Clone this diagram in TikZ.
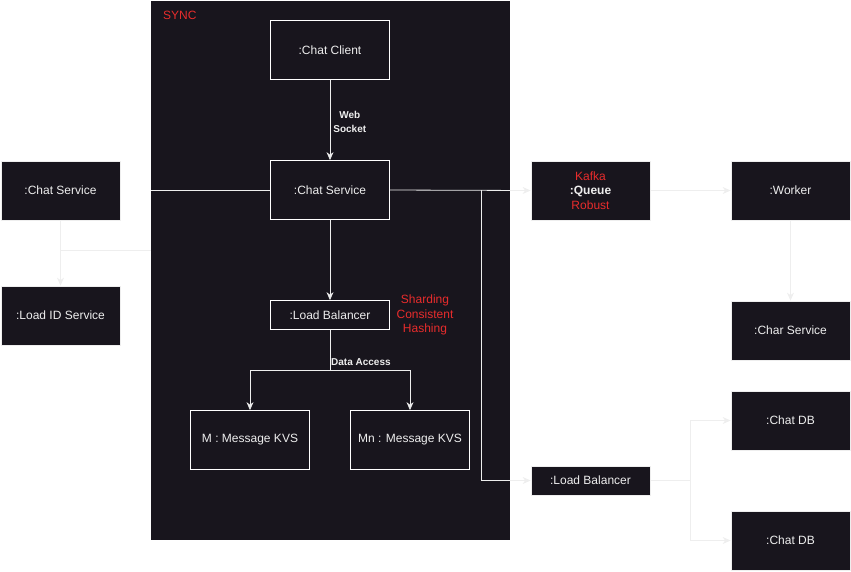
\documentclass[tikz,border=0pt]{standalone}
\usepackage{fontspec}
\setmainfont{Liberation Sans}
\usetikzlibrary{arrows.meta,positioning}

\definecolor{panel}{RGB}{24,21,29}
\definecolor{wire}{RGB}{238,238,238}
\definecolor{note}{RGB}{232,44,44}

\begin{document}
\begin{tikzpicture}[x=1pt, y=-1pt,
    box/.style={draw=wire, fill=panel, text=wire, line width=0.8pt,
                minimum width=119pt, minimum height=59pt, inner sep=0pt,
                font=\fontsize{12}{14}\selectfont},
    innerbox/.style={box, draw=white},
    flatbox/.style={box, minimum height=29pt},
    link/.style={draw=wire, line width=0.8pt, -{Stealth[length=8pt,width=7pt]}},
    plain/.style={draw=wire, line width=0.8pt},
    lbl/.style={text=wire, font=\bfseries\fontsize{10}{14}\selectfont,
                align=center, inner sep=1pt},
    redtext/.style={text=note, font=\fontsize{12}{14}\selectfont, align=center}]

  % Fix the page to the reference size
  \useasboundingbox (0,0) rectangle (851,571);

  % The SYNC region
  \node[fill=panel, minimum width=359pt, minimum height=539pt, inner sep=0pt]
    (sync) at (330.5,270.5) {};
  \node[redtext, anchor=west, inner sep=0pt] (synclbl) at (163,15) {SYNC};

  % Boxes inside SYNC
  \node[innerbox] (client) at (330,50) {:Chat Client};
  \node[innerbox] (chatin) at (330,190) {:Chat Service};
  \node[flatbox, draw=white] (lbin) at (330,315) {:Load Balancer};
  \node[innerbox] (kvsm) at (250,440) {M : Message KVS};
  \node[innerbox] (kvsn) at (410,440) {Mn : Message KVS};
  \node[redtext, inner sep=0pt] (shard) at (425,315)
    {Sharding\\[0.5pt]Consistent\\[0.5pt]Hashing};

  % Boxes on the left
  \node[box] (chatout) at (60.5,190.5) {:Chat Service};
  \node[box] (ldid) at (60.5,315.5) {:Load ID Service};

  % Boxes on the right
  \node[box, align=center] (queue) at (590.5,190.5)
    {{\color{note}Kafka}\\[0.5pt]\textbf{:Queue}\\[0.5pt]{\color{note}Robust}};
  \node[box] (worker) at (790.5,190.5) {:Worker};
  \node[box] (charsvc) at (790.5,330.5) {:Char Service};
  \node[flatbox] (lbout) at (590.5,480.5) {:Load Balancer};
  \node[box] (db1) at (790.5,420.5) {:Chat DB};
  \node[box] (db2) at (790.5,540.5) {:Chat DB};

  % Connectors inside SYNC
  \draw[link] (client) -- node[lbl, right=2pt, yshift=-1.5pt] {Web\\Socket} (chatin);
  \draw[link] (chatin) -- (lbin);
  \draw[plain] (lbin.south) -- ++(0,40) coordinate (split);
  \node[lbl, anchor=south west, yshift=3pt] (access) at (split) {Data Access};
  \draw[link] (split) -| (kvsm.north);
  \draw[link] (split) -| (kvsn.north);

  % Connectors from the chat service
  \draw[plain] (sync.west |- chatin) -- (chatin.west);
  \draw[link] (chatin.east) -- (queue.west);
  \coordinate (tap) at (481,190);
  \draw[link] (tap) |- (lbout.west);

  % Left side
  \coordinate (join) at (61,250);
  \draw[link] (chatout.south) -- (ldid.north);
  \draw[plain] (sync.west |- join) -- (join);

  % Right side
  \draw[link] (queue.east) -- (worker.west);
  \draw[link] (worker.south) -- (charsvc.north);
  \draw[plain] (lbout.east) -- ++(40,0) coordinate (fork);
  \draw[link] (fork) |- (db1.west);
  \draw[link] (fork) |- (db2.west);
\end{tikzpicture}
\end{document}
